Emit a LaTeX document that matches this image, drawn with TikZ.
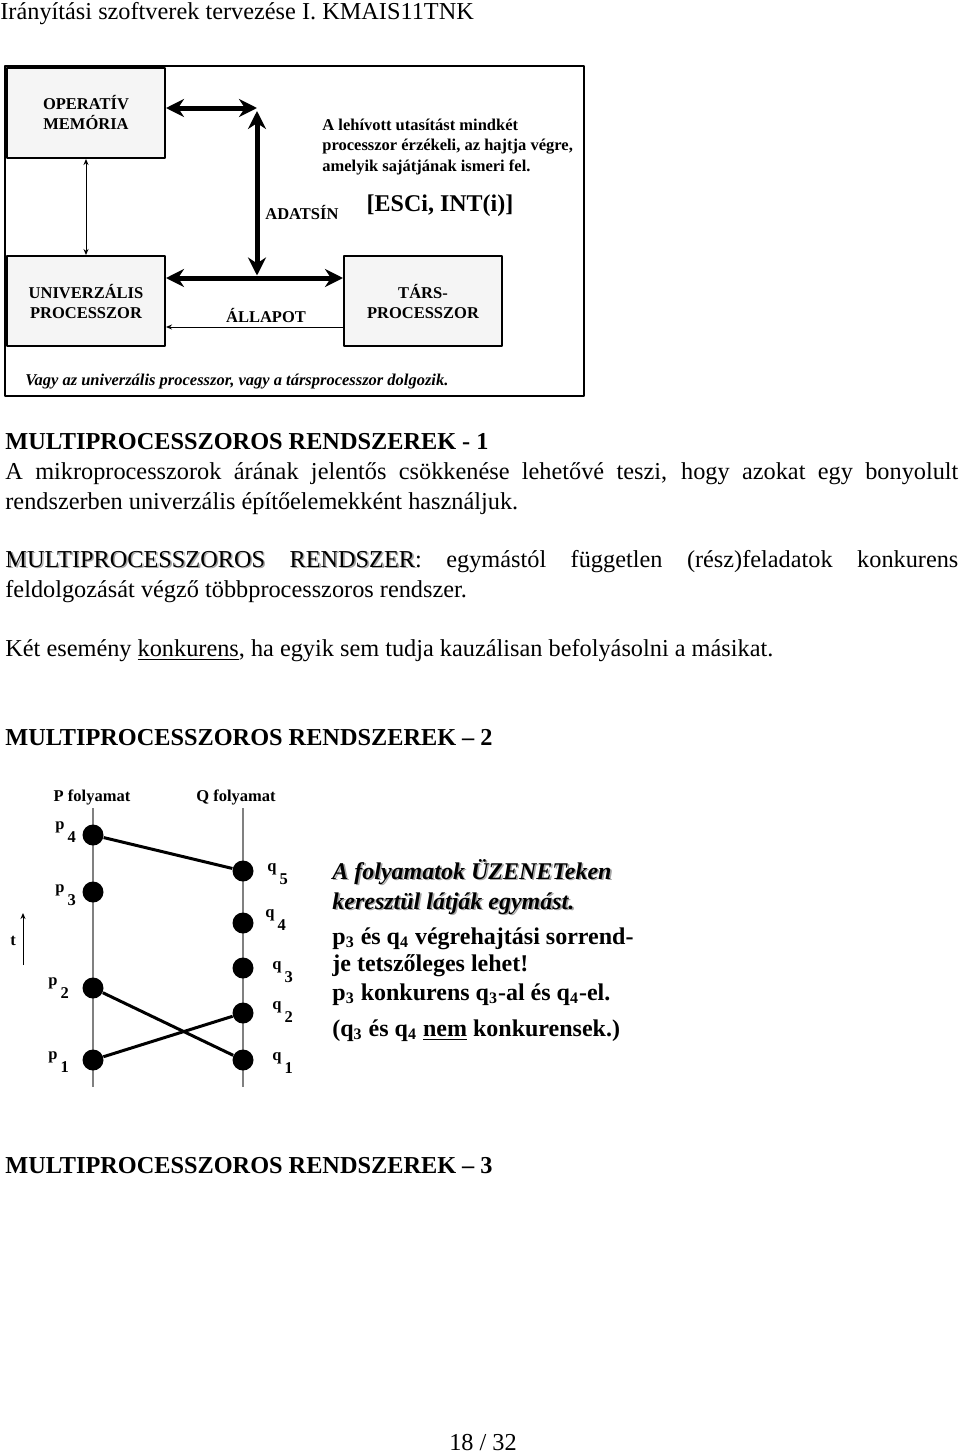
\documentclass[tikz,border=0pt]{standalone}
\usepackage{fontspec}
\setmainfont{Liberation Serif}
\usetikzlibrary{arrows.meta}
\newcommand{\shtext}[1]{\leavevmode\rlap{\kern0.8pt\raisebox{-0.8pt}{\color{black!35}#1}}#1}
\newcommand{\evlbl}[2]{#1\kern1.5pt\raisebox{-6.5pt}{#2}}
\begin{document}
\begin{tikzpicture}[x=0.5pt, y=-0.5pt, line join=round, >=Stealth,
	body/.style={anchor=base west, inner sep=0pt, font=\fontsize{12.15}{15}\selectfont},
	head/.style={body, font=\fontsize{12.15}{15}\selectfont\bfseries},
	box/.style={draw, line width=1pt, fill=black!4, minimum width=79pt, minimum height=45pt, align=center, font=\fontsize{8.25}{10}\selectfont\bfseries},
	lbl/.style={inner sep=0pt, font=\fontsize{8.25}{10.25}\selectfont\bfseries},
	bus/.style={line width=2.5pt, {Stealth[length=9pt,width=9pt]}-{Stealth[length=9pt,width=9pt]}},
	wire/.style={line width=0.5pt},
	dot/.style={circle, fill=black, inner sep=0pt, minimum size=10.5pt},
	msg/.style={line width=1.5pt},
	evt/.style={anchor=base west, inner sep=0pt, font=\fontsize{8.25}{9}\selectfont\bfseries},
	note/.style={anchor=base west, inner sep=0pt, font=\fontsize{12}{14}\selectfont\bfseries}]
	\useasboundingbox (0,0) rectangle (960,1456);
	% ==========================================
	\node[body] (hdr) at (0,19) {Irányítási szoftverek tervezése I. KMAIS11TNK};
	% ==========================================
	\draw[line width=0.6pt] (5,66) rectangle (584,396);
	\node[box] (mem) at (86,113) {OPERATÍV\\MEMÓRIA};
	\node[box] (univ) at (86,301) {UNIVERZÁLIS\\PROCESSZOR};
	\node[box] (tars) at (423,301) {TÁRS-\\PROCESSZOR};
	% adatsin
	\coordinate (bc) at (257,108);
	\coordinate (bm) at (257,278);
	\draw[bus] (bc -| mem.east) -- (bc);
	\draw[bus] ([yshift=-1.5pt]bc) -- ([yshift=1.25pt]bm);
	\draw[bus] (bm -| univ.east) -- (bm -| tars.west);
	\draw[wire, {Stealth[length=3pt,width=2.5pt]}-{Stealth[length=3pt,width=2.5pt]}] (mem.south) -- (univ.north);
	\coordinate (st) at (250,327);
	\draw[wire, -{Stealth[length=3pt,width=2.5pt]}] (st -| tars.west) -- (st -| univ.east);
	\node[lbl, anchor=west] (adat) at (265,212) {ADATSÍN};
	\node[lbl, anchor=center] (allapot) at (266,315) {ÁLLAPOT};
	\node[lbl, font=\fontsize{12}{14}\selectfont\bfseries] (esc) at (440,206) {[ESCi, INT(i)]};
	\node[lbl, anchor=west, align=left] (info) at (322,147) {A lehívott utasítást mindkét\\processzor érzékeli, az hajtja végre,\\amelyik sajátjának ismeri fel.};
	\node[lbl, anchor=base west, font=\fontsize{8.25}{10}\selectfont\bfseries\itshape] (vagy) at (25,385) {Vagy az univerzális processzor, vagy a társprocesszor dolgozik.};
	% ==========================================
	\node[head] (h1) at (5,449) {MULTIPROCESSZOROS RENDSZEREK - 1};
	\node[body] (l1) at (5,479) {\makebox[476.5pt][s]{A mikroprocesszorok árának jelentős csökkenése lehetővé teszi, hogy azokat egy bonyolult}};
	\node[body] (l2) at (5,509) {rendszerben univerzális építőelemekként használjuk.};
	\node[body] (l3) at (5,567) {\makebox[476.5pt][s]{\shtext{MULTIPROCESSZOROS} \shtext{RENDSZER}: egymástól független (rész)feladatok konkurens}};
	\node[body] (l4) at (5,597) {feldolgozását végző többprocesszoros rendszer.};
	\node[body] (l5) at (5,656) {Két esemény \underline{konkurens}, ha egyik sem tudja kauzálisan befolyásolni a másikat.};
	\node[head] (h2) at (5,745) {MULTIPROCESSZOROS RENDSZEREK -- 2};
	% ==========================================
	\node[lbl] (pname) at (92,797) {P folyamat};
	\node[lbl] (qname) at (236,797) {Q folyamat};
	\draw[line width=0.75pt, black!50] (93,808) -- (93,1087);
	\draw[line width=0.75pt, black!50] (243,808) -- (243,1087);
	\node[dot] (p4) at (93,835) {};
	\node[dot] (p3) at (93,892) {};
	\node[dot] (p2) at (93,988) {};
	\node[dot] (p1) at (93,1060) {};
	\node[dot] (q5) at (243,871) {};
	\node[dot] (q4) at (243,923) {};
	\node[dot] (q3) at (243,968) {};
	\node[dot] (q2) at (243,1013) {};
	\node[dot] (q1) at (243,1060) {};
	\draw[msg] (p4) -- (q5);
	\draw[msg] (p2) -- (q1);
	\draw[msg] (p1) -- (q2);
	\node[evt] (lp4) at (55,829) {\evlbl{p}{4}};
	\node[evt] (lp3) at (55,892) {\evlbl{p}{3}};
	\node[evt] (lp2) at (48,985) {\evlbl{p}{2}};
	\node[evt] (lp1) at (48,1059) {\evlbl{p}{1}};
	\node[evt] (lq5) at (267,871) {\evlbl{q}{5}};
	\node[evt] (lq4) at (265,917) {\evlbl{q}{4}};
	\node[evt] (lq3) at (272,969) {\evlbl{q}{3}};
	\node[evt] (lq2) at (272,1009) {\evlbl{q}{2}};
	\node[evt] (lq1) at (272,1060) {\evlbl{q}{1}};
	% ido tengely
	\node[lbl] (t) at (13,941) {t};
	\coordinate (tb) at (23,965);
	\coordinate (tt) at (23,913);
	\draw[wire, -{Stealth[length=3pt,width=2.5pt]}] (tb) -- (tt);
	\node[note, font=\fontsize{12}{14}\selectfont\bfseries\itshape] (n1) at (332,879) {\shtext{A folyamatok ÜZENETeken}};
	\node[note, font=\fontsize{12}{14}\selectfont\bfseries\itshape] (n2) at (332,909) {\shtext{keresztül látják egymást.}};
	\node[note] (n3) at (332,944) {p\textsubscript{3} és q\textsubscript{4} végrehajtási sorrend-};
	\node[note] (n4) at (332,971) {je tetszőleges lehet!};
	\node[note] (n5) at (332,1000) {p\textsubscript{3} konkurens q\textsubscript{3}-al és q\textsubscript{4}-el.};
	\node[note] (n6) at (332,1036) {(q\textsubscript{3} és q\textsubscript{4} \underline{nem} konkurensek.)};
	% ==========================================
	\node[head] (h3) at (5,1173) {MULTIPROCESSZOROS RENDSZEREK -- 3};
	\node[body, anchor=base] (pg) at (483,1450) {18 / 32};
\end{tikzpicture}
\end{document}
